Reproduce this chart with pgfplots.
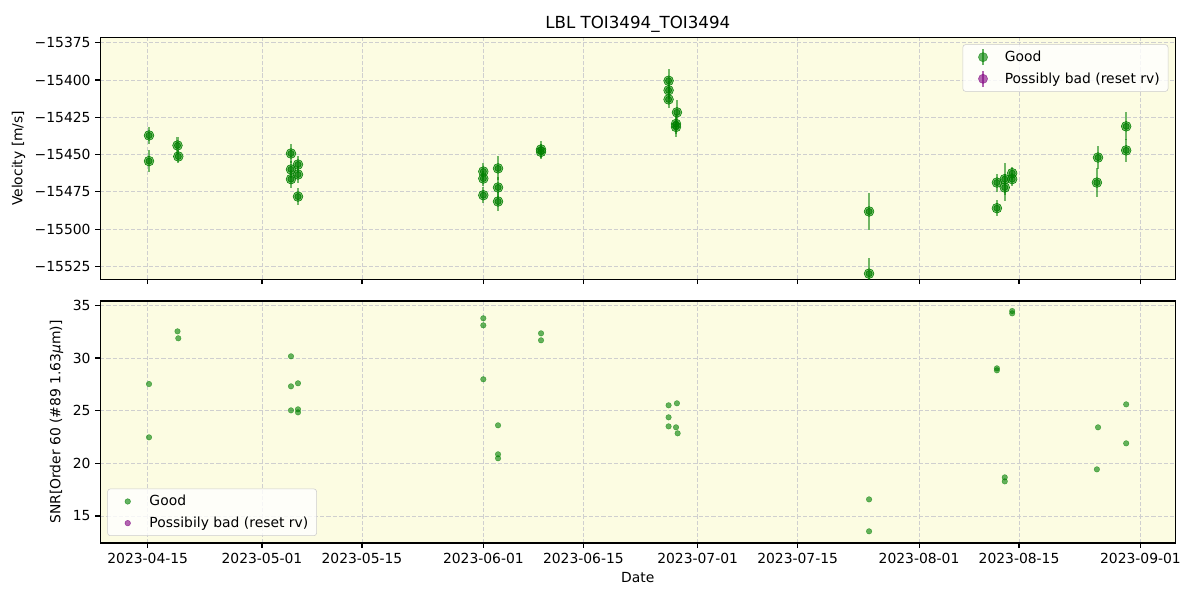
\documentclass[border=0pt]{standalone}
\usepackage{fontspec}
\setmainfont{DejaVu Sans}
\usepackage{pgfplots}
\usepackage{pgfplotstable}
\pgfplotsset{compat=1.18}
\definecolor{bgc}{RGB}{252,252,226}
\definecolor{mgreen}{RGB}{0,128,0}
\definecolor{mpurple}{RGB}{128,0,128}

\pgfplotstableread{
d v e
0.18 -15437.2 6.0
0.18 -15454.4 7.6
4.17 -15443.9 5.5
4.28 -15451.3 4.5
20.06 -15449.3 6.7
20.06 -15460.0 6.0
20.06 -15466.5 6.0
21.04 -15456.7 6.0
21.04 -15463.4 6.0
21.04 -15478.2 5.7
46.99 -15461.4 6.0
46.99 -15466.1 5.0
46.99 -15477.3 5.5
49.05 -15459.3 8.0
49.05 -15472.1 7.0
49.05 -15481.5 6.3
55.07 -15446.6 6.0
55.07 -15448.2 5.0
72.93 -15400.5 7.6
72.93 -15406.9 6.0
72.93 -15413.0 6.0
74.10 -15421.7 8.0
73.97 -15429.5 7.0
73.97 -15431.5 7.0
101.0 -15488.2 12.6
101.0 -15529.9 10.7
118.9 -15468.8 6.0
118.9 -15486.0 5.5
120.0 -15466.5 10.5
120.0 -15472.1 9.0
121.04 -15462.5 4.3
121.04 -15466.5 4.3
133.06 -15452.0 7.6
132.90 -15468.8 9.6
137.0 -15431.1 9.4
137.0 -15447.2 7.8
}\rvtable

\pgfplotstableread{
d s
0.18 27.53
0.18 22.47
4.17 32.53
4.28 31.87
20.06 30.16
20.06 27.31
20.06 25.03
21.04 27.60
21.04 25.13
21.04 24.84
46.99 33.77
46.99 33.10
46.99 27.98
49.05 23.61
49.05 20.86
49.05 20.48
55.07 32.34
55.07 31.68
72.93 25.51
72.93 24.37
72.93 23.51
74.10 25.70
73.97 23.42
74.20 22.85
101.0 16.58
101.0 13.55
118.9 29.02
118.9 28.83
120.0 18.67
120.0 18.29
121.04 34.46
121.04 34.24
133.06 23.42
132.90 19.43
137.0 25.60
137.0 21.90
}\snrtable

\pgfplotsset{
  mpl/.style={
    scale only axis, width=774pt, height=174.24pt,
    xmin=-6.64, xmax=143.88,
    axis background/.style={fill=bgc},
    grid=major,
    major grid style={color=black!19, dash pattern=on 3pt off 1.4pt, line width=0.6pt},
    tick align=outside, major tick length=3.5pt,
    tick style={black, line width=0.8pt},
    axis line style={line width=0.8pt},
    xtick pos=bottom, ytick pos=left,
    scaled y ticks=false,
    xtick={0,16,30,47,61,77,91,108,122,139},
    tick label style={font=\fontsize{10}{12}\selectfont},
    label style={font=\fontsize{10}{12}\selectfont},
    /pgf/number format/assume math mode=true,
    legend cell align=left,
    legend style={font=\fontsize{10}{12}\selectfont, draw=black!20, fill=white, fill opacity=0.8, draw opacity=1, text opacity=1, rounded corners=2pt, inner xsep=4pt, inner ysep=2.5pt, row sep=2.5pt},
  },
  ebleg/.style={legend image code/.code={
      \path[draw=none, fill=none] (0cm,0cm) rectangle (0.85cm,0cm);
      \draw[line width=1.5pt, opacity=0.6] (0.37cm,-0.2cm) -- (0.37cm,0.2cm);
      \fill[opacity=0.6] (0.37cm,0cm) circle (3.3pt);
  }},
  dotleg/.style={legend image code/.code={
      \path[draw=none, fill=none] (0cm,0cm) rectangle (0.85cm,0cm);
      \fill[opacity=0.6] (0.37cm,0cm) circle (2pt);
  }},
}

\begin{document}
\begin{tikzpicture}
\useasboundingbox (0,0) rectangle (864pt,432pt);
\begin{axis}[mpl,
  at={(72.216pt,230.904pt)}, anchor=south west,
  ymin=-15533.7, ymax=-15371.35,
  ytick={-15525,-15500,-15475,-15450,-15425,-15400,-15375},
  yticklabels={−15525,−15500,−15475,−15450,−15425,−15400,−15375},
  xticklabels={},
  ylabel={Velocity [m/s]},
  title={LBL TOI3494\_TOI3494},
  title style={font=\fontsize{12}{14}\selectfont, yshift=-6pt},
  legend style={at={(0.9935,0.971)}, anchor=north east},
]
\addplot[mgreen, only marks, mark=*, mark size=3.5pt, ebleg,
  mark options={fill=mgreen, draw=none, fill opacity=0.5},
  error bars/.cd, y dir=both, y explicit, error mark=none,
  error bar style={line width=1.5pt, mgreen, opacity=0.55}]
  table[x=d, y=v, y error=e] {\rvtable};
\addlegendentry{Good}
\addplot[mgreen, only marks, mark=*, mark size=2.2pt,
  mark options={fill=mgreen, draw=none, fill opacity=0.6}, forget plot]
  table[x=d, y=v] {\rvtable};
\addlegendimage{mpurple, ebleg}
\addlegendentry{Possibly bad (reset rv)}
\end{axis}

\begin{axis}[mpl,
  at={(72.216pt,41.04pt)}, anchor=south west,
  ymin=12.44, ymax=35.41,
  ytick={15,20,25,30,35},
  xticklabels={2023-04-15,2023-05-01,2023-05-15,2023-06-01,2023-06-15,2023-07-01,2023-07-15,2023-08-01,2023-08-15,2023-09-01},
  xlabel={Date},
  ylabel={SNR[Order 60 (\#89 1.63\textit{μ}m)]},
  legend style={at={(0.0065,0.029)}, anchor=south west},
]
\addplot[mgreen, only marks, mark=*, mark size=2.0pt,
  mark options={fill=mgreen, draw=mgreen, fill opacity=0.6, draw opacity=0.6, line width=0.3pt}, dotleg]
  table[x=d, y=s] {\snrtable};
\addlegendentry{Good}
\addlegendimage{mpurple, dotleg}
\addlegendentry{Possibily bad (reset rv)}
\end{axis}
\end{tikzpicture}
\end{document}
